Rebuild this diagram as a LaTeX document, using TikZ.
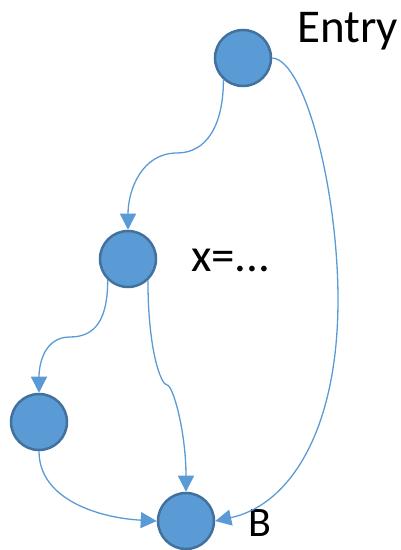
\documentclass[tikz,border=0pt]{standalone}
\usepackage{fontspec}
\setmainfont{Carlito}
\usepackage{xcolor}
\usepackage{tikz}
\usetikzlibrary{arrows.meta,positioning}
\definecolor{NodeFill}{HTML}{5B9BD5}
\definecolor{NodeEdge}{HTML}{41719C}
\definecolor{FlowBlue}{HTML}{5B9BD5}
\definecolor{TextPrimary}{HTML}{000000}

\begin{document}
\begin{tikzpicture}[x=1pt,y=1pt,
        blocknode/.style={circle, fill=NodeFill, draw=NodeEdge, line width=2.5pt, minimum size=56pt, inner sep=0pt},
        flowedge/.style={draw=FlowBlue, line width=1.3pt, -{Triangle[length=16pt,width=16pt]}},
        tag/.style={text=TextPrimary, inner sep=0pt, anchor=base west, font=\fontsize{47}{50}\selectfont}
    ]
        \useasboundingbox (0,0) rectangle (400,550);
        \node[blocknode] (entry) at (243,492) {};
        \node[blocknode] (assign) at (128,291) {};
        \node[blocknode] (left) at (39,128) {};
        \node[blocknode] (b) at (186,29) {};
        \node[tag] (entrytag) at (297,507) {Entry};
        \node[tag] (assigntag) at (191,278) {x=...};
        \node[tag, font=\fontsize{42}{46}\selectfont] (btag) at (248,13) {B};
        \draw[flowedge] (entry.228) .. controls +(0,-45) and +(30,0) .. (177,397)
            .. controls +(-35,0) and +(0,40) .. (assign.north);
        \draw[flowedge] (entry.east) .. controls (305,490) and (338,360) .. (338,250)
            .. controls (338,120) and (290,45) .. (b.east);
        \draw[flowedge] (assign.226) .. controls +(0,-40) and +(25,0) .. (70,213)
            .. controls +(-25,0) and +(0,30) .. (left.north);
        \draw[flowedge] (assign.313) .. controls +(0,-70) and +(-6,0) .. (167,165)
            .. controls +(6,0) and +(0,60) .. (b.north);
        \draw[flowedge] (left.south) .. controls (39,50) and (100,32) .. (b.west);
    \end{tikzpicture}
\end{document}
